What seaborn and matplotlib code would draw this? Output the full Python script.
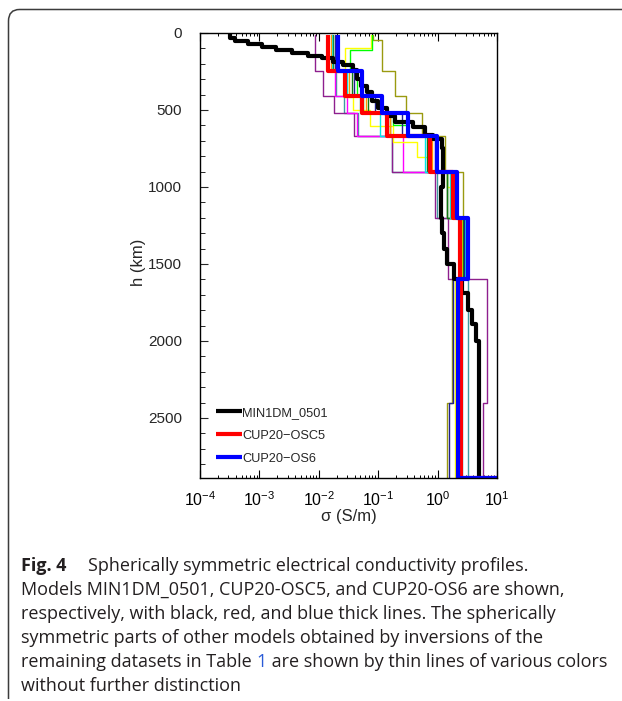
import numpy as np
import pandas as pd
import matplotlib
matplotlib.use("Agg")
import matplotlib.pyplot as plt
import seaborn as sns
from matplotlib.path import Path
from matplotlib.patches import PathPatch
from matplotlib.transforms import IdentityTransform
from matplotlib.ticker import LogLocator, MultipleLocator, NullFormatter

# ---------------- data (depth edges in km, log10 conductivity per layer) ----------------
black_depth = [0, 32, 52, 72, 90, 110, 128, 148, 165, 190, 210, 240, 300, 345, 385, 440,
               485, 540, 575, 610, 660, 690, 745, 1000, 1200, 1300, 1400, 1500, 1600,
               1690, 1800, 1890, 2000, 2890]
black_logsig = [-3.49, -3.41, -3.19, -2.96, -2.72, -2.45, -2.18, -1.95, -1.76, -1.59, -1.42,
                -1.36, -1.29, -1.19, -1.10, -1.00, -0.85, -0.72, -0.41, -0.21, -0.08, 0.07,
                0.09, 0.06, 0.07, 0.11, 0.16, 0.28, 0.41, 0.51, 0.58, 0.65, 0.70]

thick_depth = [15, 250, 410, 520, 670, 900, 1200, 1600, 2890]
red_logsig = [-1.85, -1.56, -1.27, -0.85, -0.13, 0.26, 0.38, 0.40]
blue_logsig = [-1.68, -1.27, -0.94, -0.50, -0.01, 0.33, 0.51, 0.34]
core_logsig = 3.0

std_depth = [15, 250, 410, 520, 670, 900, 1200, 1600, 2400, 2890]
purple_logsig = [-2.06, -1.93, -1.74, -1.41, -0.77, -0.04, 0.18, 0.83, 0.76]
teal_logsig = [-1.78, -1.71, -1.58, -1.34, -0.77, -0.01, 0.47, 0.51, 0.51]
magenta_logsig = [-1.86, -1.73, -1.52, -1.36, -0.58, 0.16, 0.38, 0.39, 0.39]
dkgreen_logsig = [-1.76, -1.44, -1.17, -0.80, -0.18, 0.16, 0.43, 0.36, 0.36]
cyan_logsig = [-1.78, -1.53, -1.31, -0.97, -0.21, 0.21, 0.46, 0.41, 0.41]
navy_logsig = [-1.72, -1.40, -1.05, -0.60, -0.05, 0.30, 0.45, 0.26, 0.19]
orange_logsig = [-1.80, -1.50, -1.20, -0.80, -0.10, 0.28, 0.40, 0.38, 0.38]

olive_depth = [15, 45, 250, 410, 520, 670, 900, 1200, 1600, 2400, 2890]
olive_logsig = [-1.09, -0.94, -0.72, -0.53, -0.26, 0.12, 0.43, 0.47, 0.24, 0.16]

yellow_depth = [15, 97, 416, 500, 604, 708, 805, 903, 1000, 1200, 1600, 2400, 2890]
yellow_logsig = [-1.12, -1.56, -1.42, -1.14, -0.75, -0.35, -0.13, 0.16, 0.21, 0.41, 0.29, 0.29]

lime_depth = [15, 110, 250, 410, 520, 600, 670, 900, 1200, 1600, 2400, 2890]
lime_logsig = [-1.10, -1.47, -1.36, -1.26, -0.75, -0.52, -0.13, 0.16, 0.40, 0.33, 0.33]

thin_models = [
    ("teal", "#3f9a9f", std_depth, teal_logsig),
    ("purple", "#8e1f8e", std_depth, purple_logsig),
    ("olive", "#9a9a10", olive_depth, olive_logsig),
    ("magenta", "#ff00ff", std_depth, magenta_logsig),
    ("yellow", "#ffff00", yellow_depth, yellow_logsig),
    ("lime", "#00ff00", lime_depth, lime_logsig),
    ("dkgreen", "#107a10", std_depth, dkgreen_logsig),
    ("cyan", "#00e8e8", std_depth, cyan_logsig),
    ("navy", "#202090", std_depth, navy_logsig),
    ("orange", "#ff9a00", std_depth, orange_logsig),
]

thick_models = [
    ("MIN1DM_0501", "black", black_depth, black_logsig, False),
    ("CUP20\u2212OSC5", "#ff0000", thick_depth, red_logsig, True),
    ("CUP20\u2212OS6", "#0000ff", thick_depth, blue_logsig, True),
]

caption_lines = [
    "Models MIN1DM_0501, CUP20-OSC5, and CUP20-OS6 are shown,",
    "respectively, with black, red, and blue thick lines. The spherically",
    "symmetric parts of other models obtained by inversions of the",
]
caption_title = "Fig. 4"
caption_first = "Spherically symmetric electrical conductivity profiles."
caption_l5 = ["remaining datasets in Table ", "1", " are shown by thin lines of various colors"]
caption_last = "without further distinction"


def step_frame(depth, logsig, core=False):
    s, h = [], []
    for i, v in enumerate(logsig):
        s += [10 ** v, 10 ** v]
        h += [depth[i], depth[i + 1]]
    if core:
        s.append(10 ** core_logsig)
        h.append(depth[-1])
    return pd.DataFrame({"sigma": s, "h": h})


# ---------------- figure ----------------
sns.set_style("ticks")
plt.rcParams["font.family"] = ["Liberation Sans", "DejaVu Sans"]
plt.rcParams["mathtext.fontset"] = "custom"
plt.rcParams["mathtext.rm"] = "Liberation Sans"
plt.rcParams["mathtext.it"] = "Liberation Sans:italic"
plt.rcParams["mathtext.bf"] = "Liberation Sans:bold"

W, H = 622, 701
fig = plt.figure(figsize=(W / 100, H / 100), dpi=100)
fig.patch.set_facecolor("white")
ax = fig.add_axes([200 / W, 1 - 478 / H, 297 / W, 445 / H])
ax.set_xscale("log")

for name, col, d, v in thin_models:
    sns.lineplot(data=step_frame(d, v), x="sigma", y="h", sort=False, estimator=None,
                 color=col, lw=1.0, ax=ax)

for name, col, d, v, core in thick_models:
    sns.lineplot(data=step_frame(d, v, core), x="sigma", y="h", sort=False, estimator=None,
                 color=col, lw=3.0, ax=ax, label=name, solid_capstyle="butt")

ax.set_xlim(1e-4, 1e1)
ax.set_ylim(2890, 0)

ax.xaxis.set_major_locator(LogLocator(base=10, numticks=10))
ax.xaxis.set_minor_locator(LogLocator(base=10, subs=np.arange(2, 10), numticks=20))
ax.xaxis.set_minor_formatter(NullFormatter())
ax.yaxis.set_major_locator(MultipleLocator(500))
ax.yaxis.set_minor_locator(MultipleLocator(100))

ax.tick_params(axis="x", which="both", direction="in", top=True, bottom=True,
               labelsize=11.5, pad=9, colors="black")
ax.tick_params(axis="x", which="major", length=5.5, width=0.8)
ax.tick_params(axis="x", which="minor", length=2.5, width=0.7)
ax.tick_params(axis="y", which="both", direction="in", left=True, right=False,
               labelsize=11, pad=13)
ax.tick_params(axis="y", which="major", length=6, width=0.8)
ax.tick_params(axis="y", which="minor", length=3.8, width=0.7)

for sp in ax.spines.values():
    sp.set_color("black")
    sp.set_linewidth(1.0)

ax.set_xlabel("\u03c3 (S/m)", fontsize=12, labelpad=0)
ax.set_ylabel("h (km)", fontsize=12)
ax.yaxis.set_label_coords(-0.182, 0.485)

handles, labels = ax.get_legend_handles_labels()
ax.legend(handles, labels, loc="lower left", bbox_to_anchor=(0.055, 0.03),
          frameon=False, fontsize=9.2, handlelength=2.0, handletextpad=0.0,
          labelspacing=0.86, borderpad=0, borderaxespad=0)

# ---------------- caption box ----------------
verts = [(8.5, H - 699), (8.5, H - 21), (8.5, H - 9.5), (19.5, H - 9.5), (700, H - 9.5)]
codes = [Path.MOVETO, Path.LINETO, Path.CURVE3, Path.CURVE3, Path.LINETO]
box = PathPatch(Path(verts, codes), fill=False, edgecolor="#3c3c3c", lw=1.1,
                transform=IdentityTransform())
fig.add_artist(box)

cap_font = ["Open Sans", "DejaVu Sans"]
cap_color = "#231f20"
renderer = fig.canvas.get_renderer()

x0 = 21
line_y = [566, 590, 614, 638, 662, 686]

probe = fig.text(0, 0, "".join(caption_l5), fontsize=10, family=cap_font)
pw = probe.get_window_extent(renderer).width
probe.remove()
fs = 10 * 588 / pw


def fy(y):
    return 1 - y / H


fig.text(x0 / W, fy(line_y[0]), caption_title, fontsize=fs, family=cap_font,
         weight="bold", color=cap_color, va="center")
fig.text(88 / W, fy(line_y[0]), caption_first, fontsize=fs, family=cap_font,
         color=cap_color, va="center")
for i, ln in enumerate(caption_lines):
    fig.text(x0 / W, fy(line_y[i + 1]), ln, fontsize=fs, family=cap_font,
             color=cap_color, va="center")

xc = x0
for part, col in zip(caption_l5, [cap_color, "#2a5bd7", cap_color]):
    tt = fig.text(xc / W, fy(line_y[4]), part, fontsize=fs, family=cap_font,
                  color=col, va="center")
    xc += tt.get_window_extent(renderer).width

fig.text(x0 / W, fy(line_y[5]), caption_last, fontsize=fs, family=cap_font,
         color=cap_color, va="center")

fig.savefig("out.png", dpi=100)
